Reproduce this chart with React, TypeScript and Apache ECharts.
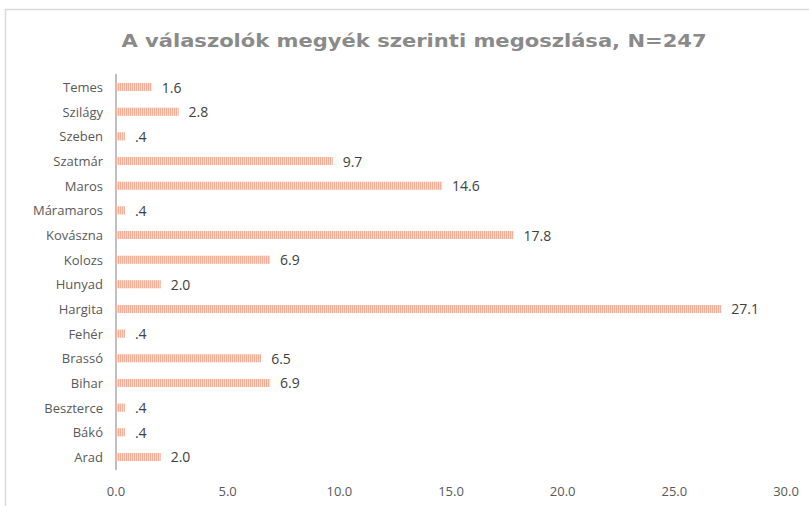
import React, { useEffect, useRef } from "react";
import * as echarts from "echarts";

const categories = ["Arad", "Bákó", "Beszterce", "Bihar", "Brassó", "Fehér", "Hargita", "Hunyad", "Kolozs", "Kovászna", "Máramaros", "Maros", "Szatmár", "Szeben", "Szilágy", "Temes"];
const values = [2.0, 0.4, 0.4, 6.9, 6.5, 0.4, 27.1, 2.0, 6.9, 17.8, 0.4, 14.6, 9.7, 0.4, 2.8, 1.6];
const xTicks = [0, 5, 10, 15, 20, 25, 30];
const titleText = "A válaszolók megyék szerinti megoszlása, N=247";

const fmt = (v: number) => (v < 1 ? "." + Math.round(v * 10) : v.toFixed(1));

export default function App() {
  const ref = useRef<HTMLDivElement>(null);
  useEffect(() => {
    if (!ref.current) return;
    const chart = echarts.init(ref.current, null, { renderer: "svg" });
    chart.setOption({
      animation: false,
      backgroundColor: "#ffffff",
      textStyle: { fontFamily: "Open Sans" },
      graphic: [
        {
          type: "polyline",
          shape: { points: [[5.5, 520], [5.5, 9.5], [815, 9.5]] },
          style: { stroke: "#d9d9d9", fill: "none", lineWidth: 1.5 },
          silent: true,
        },
        {
          type: "text",
          x: 414,
          y: 41,
          scaleX: 1.17,
          style: {
            text: titleText,
            fontFamily: "DejaVu Sans",
            fontWeight: "bold",
            fontSize: 18,
            fill: "#8a8a8a",
            align: "center",
            verticalAlign: "middle",
          },
          silent: true,
        },
      ],
      grid: { left: 116, right: 23, top: 74.7, bottom: 36.7, containLabel: false },
      xAxis: {
        type: "value",
        min: xTicks[0],
        max: xTicks[xTicks.length - 1],
        interval: 5,
        axisLine: { show: false },
        axisTick: { show: false },
        splitLine: { show: false },
        axisLabel: {
          color: "#595959",
          fontSize: 13,
          margin: 15,
          formatter: (v: number) => v.toFixed(1),
        },
      },
      yAxis: {
        type: "category",
        data: categories,
        axisLine: { show: true, lineStyle: { color: "#bfbfbf", width: 2 } },
        axisTick: { show: false },
        axisLabel: { color: "#595959", fontSize: 13, margin: 13 },
      },
      series: [
        {
          type: "bar",
          data: values,
          barWidth: 8,
          itemStyle: {
            color: "#fbd8ca",
            decal: {
              symbol: "rect",
              symbolSize: 1,
              dashArrayX: [1, 1],
              dashArrayY: [10, 0],
              rotation: 0,
              color: "#f4b099",
            },
          },
          label: {
            show: true,
            position: "right",
            distance: 10,
            color: "#404040",
            fontSize: 14,
            formatter: (p: any) => fmt(p.value),
          },
        },
      ],
    });
    return () => chart.dispose();
  }, []);
  return <div ref={ref} style={{ position: "fixed", left: 0, top: 0, width: 809, height: 506 }} />;
}
